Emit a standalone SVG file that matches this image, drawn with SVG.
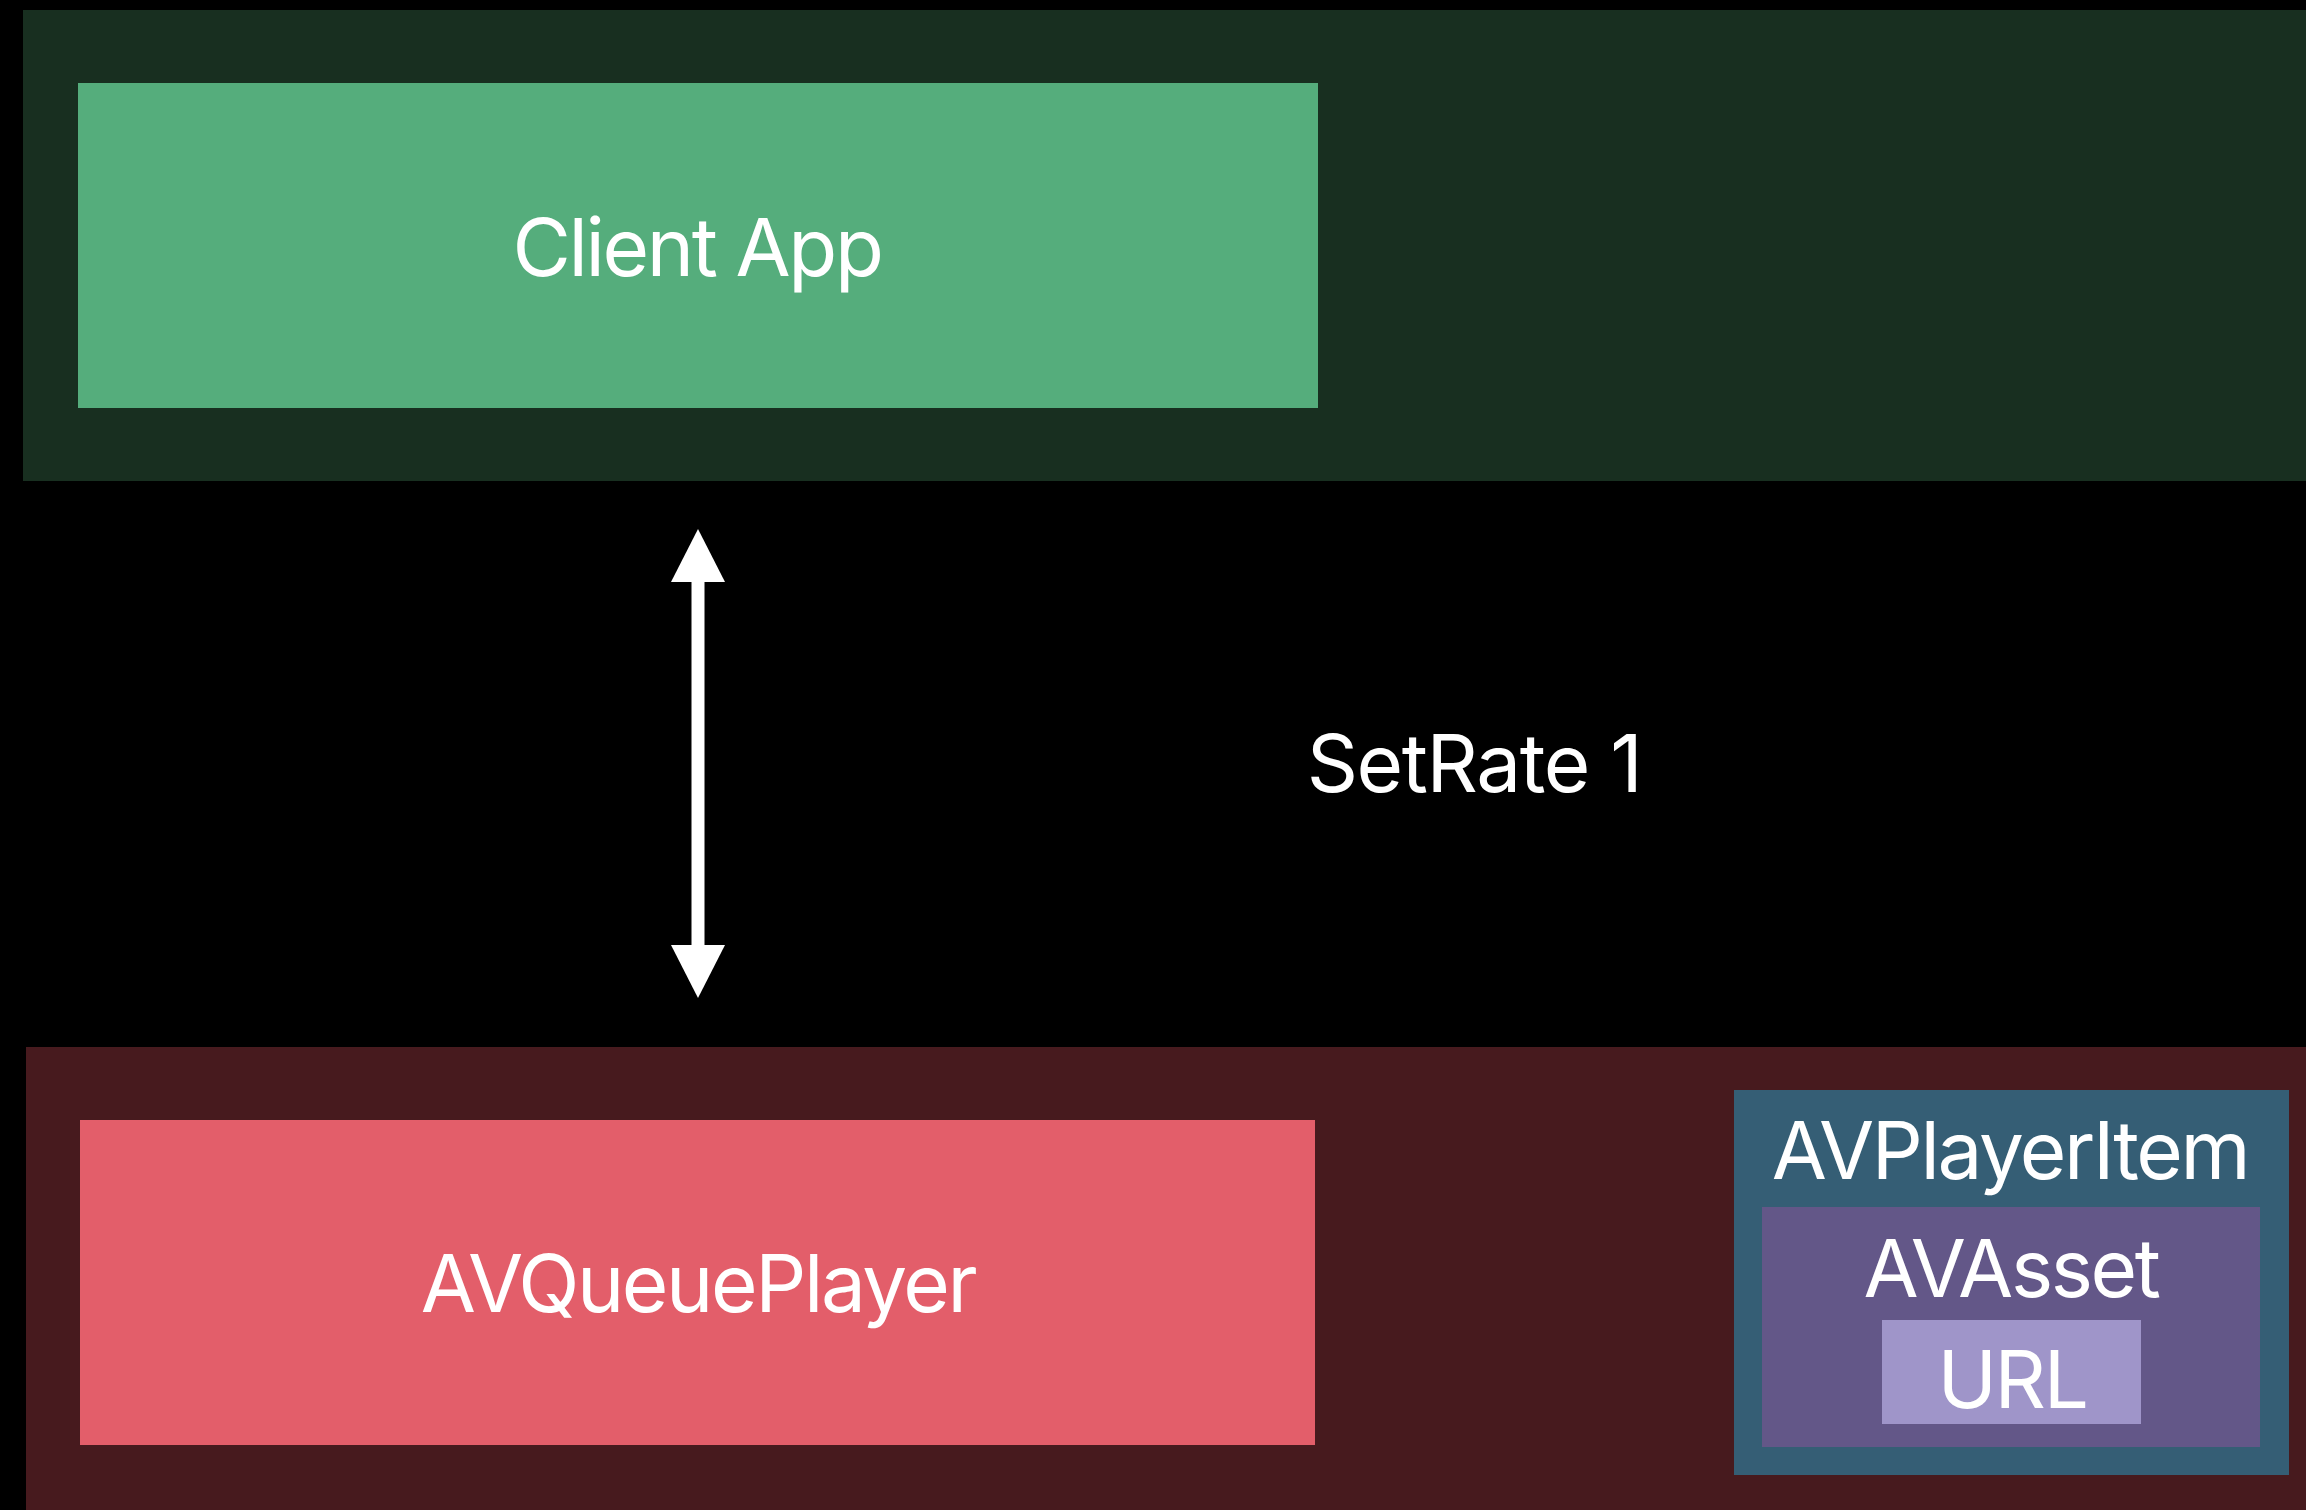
<svg xmlns="http://www.w3.org/2000/svg" width="2306" height="1510" viewBox="0 0 2306 1510">
<defs>
<style>
.lbl{font-family:Inter,"Noto Sans","Liberation Sans",sans-serif;fill:#ffffff;text-anchor:middle;font-size:80px;letter-spacing:-2.4px}
</style>
<marker id="head" viewBox="0 0 53 54" refX="0" refY="27" markerWidth="53" markerHeight="54" markerUnits="userSpaceOnUse" orient="auto-start-reverse">
<path d="M0,0 L53,27 L0,54 Z" fill="#ffffff"/>
</marker>
</defs>
<rect x="0" y="0" width="2306" height="1510" fill="#000000"/>
<g id="client-layer">
<rect x="23" y="10" width="2283" height="471" fill="#182f20"/>
</g>
<g id="client-app">
<rect x="78" y="83" width="1240" height="325" fill="#55ad7c"/>
<text class="lbl" x="697" y="276">Client App</text>
</g>
<g id="player-layer">
<rect x="26" y="1047" width="2280" height="463" fill="#471a1e"/>
</g>
<g id="avqueueplayer">
<rect x="80" y="1120" width="1235" height="325" fill="#e35e6a"/>
<text class="lbl" x="698" y="1312">AVQueuePlayer</text>
</g>
<g id="avplayeritem">
<rect x="1734" y="1090" width="555" height="385" fill="#355e75"/>
<text class="lbl" x="2010" y="1179">AVPlayerItem</text>
</g>
<g id="avasset">
<rect x="1762" y="1207" width="498" height="240" fill="#635788"/>
<text class="lbl" x="2011" y="1297">AVAsset</text>
</g>
<g id="url">
<rect x="1882" y="1320" width="259" height="104" fill="#9f95c9"/>
<text class="lbl" x="2012" y="1408">URL</text>
</g>
<g id="connectors">
<path d="M698,582 L698,945" stroke="#ffffff" stroke-width="13" fill="none" marker-start="url(#head)" marker-end="url(#head)"/>
<text class="lbl" x="1474" y="792" font-size="83" style="letter-spacing:-1.4px">SetRate 1</text>
</g>
</svg>
